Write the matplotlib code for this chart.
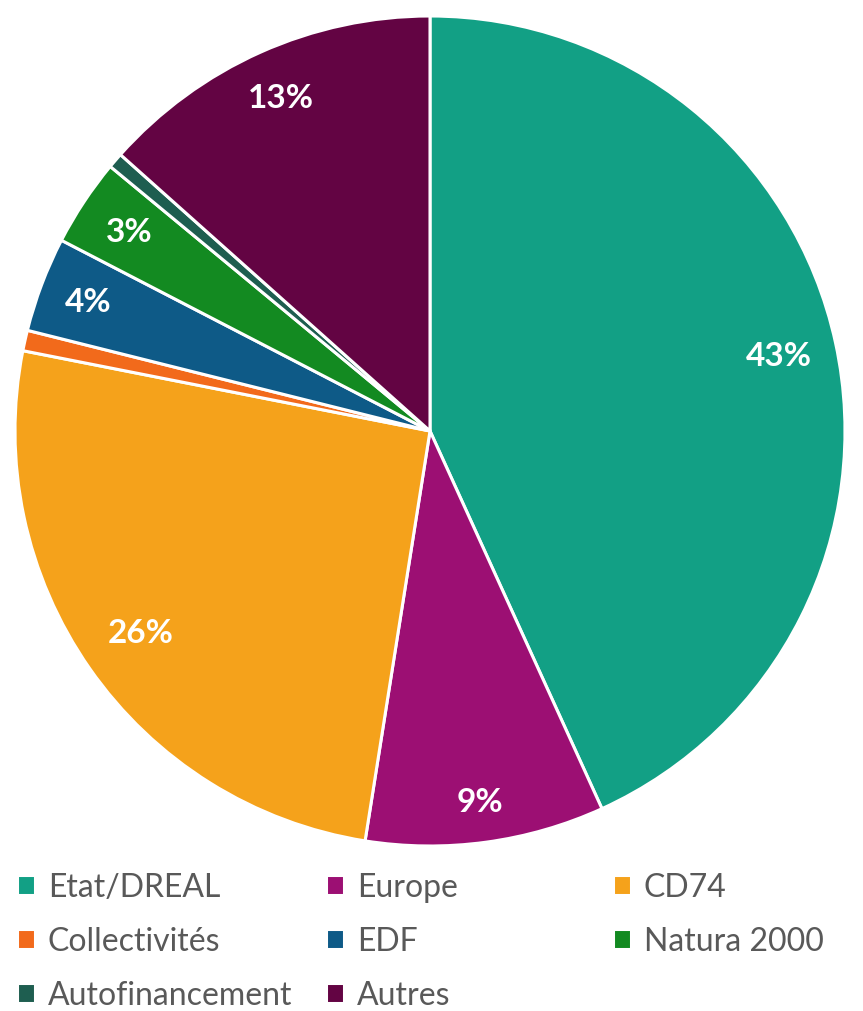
import matplotlib.pyplot as plt
import numpy as np

# funding sources, clockwise from 12 o'clock
labels = ['Etat/DREAL', 'Europe', 'CD74', 'Collectivités', 'EDF',
          'Natura 2000', 'Autofinancement', 'Autres']
shares = [43.2, 9.3, 25.6, 0.8, 3.7, 3.4, 0.6, 13.4]
pct_text = ['43%', '9%', '26%', '', '4%', '3%', '', '13%']
colors = ['#12a085', '#9c0f73', '#f5a21b', '#f26a1b', '#0e5a87',
          '#138a21', '#1e5e50', '#630443']
label_dist = [0.86, 0.90, 0.85, 0, 0.88, 0.87, 0, 0.88]

plt.rcParams['font.family'] = ['Lato', 'DejaVu Sans']

W, H = 863, 1012
fig = plt.figure(figsize=(W / 100, H / 100), dpi=100)
ax = fig.add_axes([15 / W, 165 / H, 830 / W, 830 / H])

wedges, _ = ax.pie(shares, colors=colors, startangle=90, counterclock=False,
                   radius=1, wedgeprops=dict(edgecolor='white', linewidth=2.2))
ax.set_xlim(-1, 1)
ax.set_ylim(-1, 1)
ax.set_aspect('equal')
ax.axis('off')

for w, txt, d in zip(wedges, pct_text, label_dist):
    if not txt:
        continue
    ang = np.deg2rad((w.theta1 + w.theta2) / 2)
    ax.text(d * np.cos(ang), d * np.sin(ang), txt, ha='center', va='center',
            color='white', fontsize=24, fontweight='bold')

# legend laid out row by row in three columns
col_x = [17 / W, 326 / W, 613 / W]
cols = [[0, 3, 6], [1, 4, 7], [2, 5]]
for cx, idx in zip(col_x, cols):
    fig.legend([wedges[i] for i in idx], [labels[i] for i in idx],
               loc='upper left', bbox_to_anchor=(cx, 0.137), frameon=False,
               fontsize=23, labelcolor='#595959', handlelength=0.56,
               handleheight=0.56, handletextpad=0.4, labelspacing=0.75,
               borderaxespad=0, borderpad=0)

fig.savefig('out.png', dpi=100)
